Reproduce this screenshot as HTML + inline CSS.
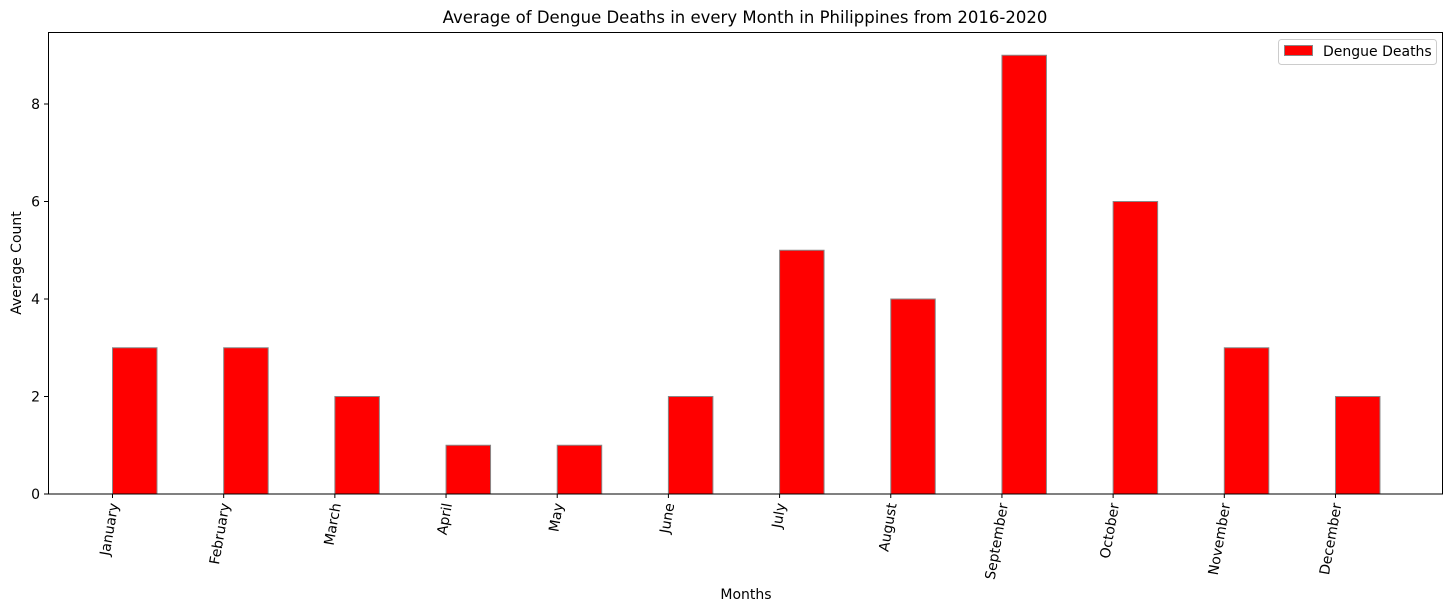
<!DOCTYPE html>
<html><head><meta charset="utf-8"><style>
body{margin:0;background:#fff}
svg text{font-family:"DejaVu Sans","Liberation Sans",sans-serif;font-size:14px;fill:#000}
</style></head><body>
<svg id="chart" width="1453" height="611" xmlns="http://www.w3.org/2000/svg">
<text x="745" y="23" text-anchor="middle" style="font-size:16.5px">Average of Dengue Deaths in every Month in Philippines from 2016-2020</text>
<g id="bars"></g>
<g id="axes"></g>
<rect x="48.5" y="32.5" width="1394" height="461.5" fill="none" stroke="#000" stroke-width="1"/>
<text transform="translate(21,263) rotate(-90)" text-anchor="middle">Average Count</text>
<text x="746" y="599" text-anchor="middle">Months</text>
<g>
<rect x="1278.5" y="39.5" width="158" height="25" rx="3" fill="#fff" stroke="#ccc"/>
<rect x="1284.5" y="45.5" width="28" height="10" fill="#f00" stroke="#888"/>
<text x="1323" y="56">Dengue Deaths</text>
</g>
</svg>
<script>
const months=["January","February","March","April","May","June","July","August","September","October","November","December"];
const deaths=[3,3,2,1,1,2,5,4,9,6,3,2];
const yTicks=[0,2,4,6,8];
const NS="http://www.w3.org/2000/svg";
const x0=112.5,step=111.18,barW=44.5;
function xs(i){return x0+i*step;}
function ys(v){return 494-v*48.75;}
const bars=document.getElementById('bars'),axes=document.getElementById('axes');
months.forEach((m,i)=>{
 const r=document.createElementNS(NS,'rect');
 
 
 r.setAttribute('x',xs(i));r.setAttribute('y',ys(deaths[i]));
 r.setAttribute('width',barW);r.setAttribute('height',ys(0)-ys(deaths[i]));
 r.setAttribute('fill','#f00');r.setAttribute('stroke','#888');
 bars.appendChild(r);
 const t=document.createElementNS(NS,'line');
 
 
 t.setAttribute('x1',xs(i));t.setAttribute('x2',xs(i));t.setAttribute('y1',494);t.setAttribute('y2',498);t.setAttribute('stroke','#000');
 axes.appendChild(t);
 const l=document.createElementNS(NS,'text');
 
 
 l.setAttribute('text-anchor','end');
 l.setAttribute('transform','translate('+(xs(i)+6)+',504) rotate(-80)');
 l.textContent=m;axes.appendChild(l);
});
yTicks.forEach(v=>{
 const t=document.createElementNS(NS,'line');
 
 
 t.setAttribute('x1',44);t.setAttribute('x2',48);t.setAttribute('y1',ys(v));t.setAttribute('y2',ys(v));t.setAttribute('stroke','#000');
 axes.appendChild(t);
 const l=document.createElementNS(NS,'text');
 
 
 l.setAttribute('x',40);l.setAttribute('y',ys(v)+5);l.setAttribute('text-anchor','end');
 l.textContent=v;axes.appendChild(l);
});
</script>
</body></html>
